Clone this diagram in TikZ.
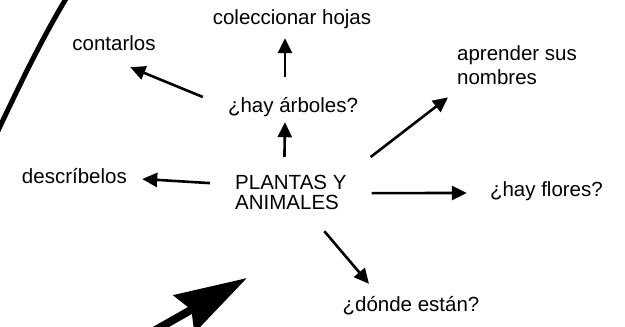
\documentclass[tikz,border=0pt]{standalone}
\usepackage{fontspec}
\setmainfont{Liberation Sans}
\usetikzlibrary{arrows.meta}

\begin{document}
\begin{tikzpicture}[x=1pt, y=-1pt,
        % Global font for all labels
        font=\fontsize{20.5}{24.6}\selectfont,
        % Reusable styles for labels and arrows
        etiqueta/.style={inner sep=0pt, anchor=base, text height=15pt, text depth=4.5pt},
        bloque/.style={inner sep=0pt, anchor=north west, align=left},
        flecha/.style={line width=2.6pt, -{Triangle[length=15pt, width=14pt]}},
        flechagrande/.style={line width=8pt, -{Stealth[length=72pt, width=42pt, inset=8pt]}},
        borde/.style={line width=5pt}
    ]

    \useasboundingbox (0,0) rectangle (625,327);
    \clip (0,0) rectangle (625,327);

    % Curved border on the left
    \draw[borde] (70,-8) .. controls (42,38) and (20,84) .. (-4,135);

    % Labels
    \node[etiqueta] (hojas) at (292,24) {coleccionar hojas};
    \node[etiqueta] (contar) at (114,50) {contarlos};
    \node[etiqueta] (arboles) at (293,112) {¿hay árboles?};
    \node[bloque] (nombres) at (457,45.3) {aprender sus\\nombres};
    \node[etiqueta] (describir) at (74.4,183) {descríbelos};
    \node[bloque, font=\fontsize{20.5}{20}\selectfont] (centro) at (235,175.3) {PLANTAS Y\\ANIMALES};
    \node[etiqueta] (flores) at (546.4,196) {¿hay flores?};
    \node[etiqueta] (donde) at (411,311) {¿dónde están?};

    % Arrows between labels
    \draw[flecha] ([shift={(-6.4,-18.3)}]centro.north) -- ([shift={(-8,5.5)}]arboles.south);
    \draw[flecha] ([shift={(-8,-20)}]arboles.north) -- ([shift={(-7,9.5)}]hojas.south);
    \draw[flecha] ([shift={(-25,-9.75)}]arboles.west) -- ([shift={(-25.5,12.5)}]contar.south east);
    \draw[flecha] ([shift={(24,-18.3)}]centro.north east) -- ([shift={(-9,12)}]nombres.south west);
    \draw[flecha] ([shift={(-25,-9.65)}]centro.west) -- ([shift={(15.2,1.25)}]describir.east);
    \draw[flecha] ([shift={(25,0.35)}]centro.east) -- ([shift={(-23,2.25)}]flores.west);
    \draw[flecha] ([shift={(33.5,21)}]centro.south) -- ([shift={(-42,-12)}]donde.north);

    % Big arrow at the bottom
    \coordinate (cola) at (117,352);
    \coordinate (punta) at (247,278);
    \draw[flechagrande] (cola) -- (punta);

\end{tikzpicture}
\end{document}
